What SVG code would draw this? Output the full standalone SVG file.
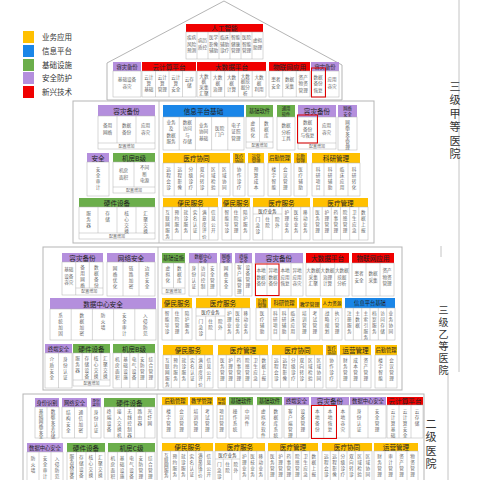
<svg xmlns="http://www.w3.org/2000/svg" width="480" height="480" viewBox="0 0 480 480">
<style>
text{font-family:"Noto Sans CJK SC","Noto Sans",sans-serif}
.tier{fill:none;stroke:#b5b5b5;stroke-width:1}
.c{fill:#fff;stroke:#b0b0b0;stroke-width:.5}
.d{fill:none;stroke:#b0b0b0;stroke-width:.5}
.o{fill:#FFC000}.b{fill:#1A86E8}.g{fill:#6BAE4B}.p{fill:#B48FDD}.r{fill:#F00000}
.h{font-size:6.6px;fill:#222;text-anchor:middle;dominant-baseline:central}
.hm{font-size:5.3px;fill:#222;text-anchor:middle;dominant-baseline:central}
.hs{font-size:4.3px;fill:#222;text-anchor:middle;dominant-baseline:central}
.hx{font-size:3.8px;fill:#222;text-anchor:middle;dominant-baseline:central}
.v{font-size:4.6px;fill:#666;writing-mode:vertical-rl;letter-spacing:1.3px}
.vt{letter-spacing:.3px}
.t{font-size:4.6px;fill:#666;text-anchor:middle}
.cf{font-size:4px;fill:#666;text-anchor:middle}
.sub{font-size:4.6px;fill:#333;text-anchor:middle;dominant-baseline:central}
.hl{fill:none;stroke:#E00000;stroke-width:1}
.lg{font-size:7.5px;fill:#333}
.side{font-size:11px;fill:#333;writing-mode:vertical-rl;letter-spacing:2.5px}
.s2{font-size:10px;letter-spacing:2px}
.ln{fill:none;stroke:#b5b5b5;stroke-width:.8}
</style>

<g id="legend">
<rect class="o" x="23" y="31" width="11" height="12"/><text class="lg" x="42" y="40">业务应用</text>
<rect class="b" x="23" y="45" width="11" height="12"/><text class="lg" x="42" y="54">信息平台</text>
<rect class="g" x="23" y="59" width="11" height="12"/><text class="lg" x="42" y="68">基础设施</text>
<rect class="p" x="23" y="72" width="11" height="12"/><text class="lg" x="42" y="81">安全防护</text>
<rect class="r" x="23" y="86" width="11" height="12"/><text class="lg" x="42" y="95">新兴技术</text>
</g>

<g id="levels">
<path class="ln" d="M459 0V372M448 372V480M441 246V257"/>
<text class="side" x="455" y="81">三级甲等医院</text>
<text class="side s2" x="443.5" y="305">三级乙等医院</text>
<text class="side" x="431" y="418">二级医院</text>
</g>

<g id="roof"><polygon class="tier" points="107,100 107,63 224,1 342,65 342,100"/></g>

<g id="ai">
<rect class="r" x="186" y="24" width="77" height="8"/><text class="h" x="224.5" y="28">人工智能</text>
<rect class="c" x="186" y="32" width="77" height="27"/>
<path class="d" d="M197 32V59M208 32V59M219 32V59M230 32V59M241 32V59M252 32V59"/>
<text class="t" x="191.5" y="39">疾病<tspan x="191.5" dy="6.5">风险</tspan><tspan x="191.5" dy="6.5">预测</tspan></text>
<text class="t" x="202.5" y="42">病历<tspan x="202.5" dy="6.5">质控</tspan></text>
<text class="t" x="213.5" y="39">医学<tspan x="213.5" dy="6.5">影像</tspan><tspan x="213.5" dy="6.5">辅助</tspan></text>
<text class="t" x="224.5" y="39">临床<tspan x="224.5" dy="6.5">辅助</tspan><tspan x="224.5" dy="6.5">诊疗</tspan></text>
<text class="t" x="235.5" y="39">智能<tspan x="235.5" dy="6.5">健康</tspan><tspan x="235.5" dy="6.5">管理</tspan></text>
<text class="t" x="246.5" y="39">医院<tspan x="246.5" dy="6.5">智能</tspan><tspan x="246.5" dy="6.5">管理</tspan></text>
<text class="t" x="257.5" y="42">虚拟<tspan x="257.5" dy="6.5">助理</tspan></text>
</g>

<g id="roof-backup">
<rect class="p" x="113" y="62" width="28" height="9"/><text class="hm" x="127" y="66.5">容灾备份</text>
<rect class="c" x="113" y="71" width="28" height="26"/>
<text class="t" x="127" y="81">基础设备<tspan x="127" dy="7">容灾</tspan></text>
</g>

<g id="roof-cloud">
<rect class="r" x="142" y="62" width="54" height="9"/><text class="h" x="169" y="66.5">云计算平台</text>
<rect class="c" x="142" y="71" width="54" height="26"/>
<path class="d" d="M155.5 71V97M169 71V97M182.5 71V97"/>
<text class="t" x="148.75" y="78.5">云计<tspan x="148.75" dy="6">算</tspan><tspan x="148.75" dy="6">基础</tspan></text>
<text class="t" x="162.25" y="78.5">云计<tspan x="162.25" dy="6">算</tspan><tspan x="162.25" dy="6">管理</tspan></text>
<text class="t" x="175.75" y="78.5">云计<tspan x="175.75" dy="6">算</tspan><tspan x="175.75" dy="6">安全</tspan></text>
<text class="t" x="189.25" y="81">云存<tspan x="189.25" dy="6">储</tspan></text>
</g>

<g id="roof-bigdata">
<rect class="r" x="197" y="62" width="69" height="9"/><text class="h" x="231.5" y="66.5">大数据平台</text>
<rect class="c" x="197" y="71" width="69" height="26"/>
<path class="d" d="M210.8 71V97M224.6 71V97M238.4 71V97M252.2 71V97"/>
<text class="t" x="203.9" y="77.5">大数<tspan x="203.9" dy="5.8">据</tspan><tspan x="203.9" dy="5.8">采集</tspan><tspan x="203.9" dy="5.8">汇聚</tspan></text>
<text class="t" x="217.7" y="78.5">大数<tspan x="217.7" dy="6">据</tspan><tspan x="217.7" dy="6">治理</tspan></text>
<text class="t" x="231.5" y="78.5">大数<tspan x="231.5" dy="6">据</tspan><tspan x="231.5" dy="6">计算</tspan></text>
<text class="t" x="245.3" y="77.5">大数<tspan x="245.3" dy="5.8">据挖</tspan><tspan x="245.3" dy="5.8">掘分</tspan><tspan x="245.3" dy="5.8">析</tspan></text>
<text class="t" x="259.1" y="78.5">大数<tspan x="259.1" dy="6">据</tspan><tspan x="259.1" dy="6">利用</tspan></text>
</g>

<g id="roof-iot">
<rect class="r" x="269" y="62" width="41" height="9"/><text class="h" x="289.5" y="66.5">物联网应用</text>
<rect class="c" x="269" y="71" width="41" height="26"/>
<path class="d" d="M282.7 71V97M296.3 71V97"/>
<text class="t" x="275.8" y="81">患者<tspan x="275.8" dy="6.5">安全</tspan></text>
<text class="t" x="289.5" y="81">数据<tspan x="289.5" dy="6.5">采集</tspan></text>
<text class="t" x="303.2" y="78.5">资产<tspan x="303.2" dy="6.5">物资</tspan><tspan x="303.2" dy="6.5">管理</tspan></text>
</g>

<g id="roof-dr">
<rect class="p" x="311" y="62" width="28" height="9"/><text class="hm" x="325" y="66.5">容灾备份</text>
<rect class="c" x="311" y="71" width="28" height="26"/>
<path class="d" d="M325 71V97"/>
<text class="t" x="318" y="78.5">数据<tspan x="318" dy="6.5">备份</tspan><tspan x="318" dy="6.5">恢复</tspan></text>
<text class="t" x="332" y="81">应用<tspan x="332" dy="6.5">容灾</tspan></text>
<rect class="hl" x="311.5" y="68" width="14" height="29"/>
</g>

<g id="tier1-frame">
<rect class="tier" x="73" y="101" width="301" height="142"/>
<path class="ln" d="M159 101V243"/>
</g>

<g id="t1-backup">
<rect class="p" x="98" y="105" width="57" height="11"/><text class="h" x="126.5" y="110.5">容灾备份</text>
<rect class="c" x="98" y="116" width="57" height="33"/>
<path class="d" d="M117 116V143M136 116V143M98 143H155"/>
<text class="t" x="107.5" y="127">备用<tspan x="107.5" dy="7">网络</tspan></text>
<text class="t" x="126.5" y="127">数据<tspan x="126.5" dy="7">备份</tspan></text>
<text class="t" x="145.5" y="127">应用<tspan x="145.5" dy="7">容灾</tspan></text>
<text class="cf" x="126.5" y="147.5">配置增加</text>
</g>

<g id="t1-security">
<rect class="p" x="87" y="153" width="22" height="9"/><text class="h" x="98" y="157.5">安全</text>
<rect class="c" x="87" y="162" width="22" height="34"/>
<text class="v" x="98" y="167">安全审计</text>
</g>

<g id="t1-room">
<rect class="g" x="113" y="153" width="42" height="9"/><text class="h" x="134" y="157.5">机房B级</text>
<rect class="c" x="113" y="162" width="42" height="31"/>
<path class="d" d="M134 162V187M113 187H155"/>
<text class="t" x="123.5" y="172">机房<tspan x="123.5" dy="7">面积</tspan></text>
<text class="t" x="144.5" y="169">不间<tspan x="144.5" dy="6.5">断</tspan><tspan x="144.5" dy="6.5">电源</tspan></text>
<text class="cf" x="134" y="191.5">配置增加</text>
</g>

<g id="t1-hardware">
<rect class="g" x="79" y="198" width="76" height="9"/><text class="h" x="117" y="202.5">硬件设备</text>
<rect class="c" x="79" y="207" width="76" height="32"/>
<path class="d" d="M98 207V233M117 207V233M136 207V233M79 233H155"/>
<text class="v" x="88.5" y="211">服务器</text>
<text class="v" x="107.5" y="211">存储</text>
<text class="v" x="126.5" y="211">核心交换</text>
<text class="v" x="145.5" y="211">汇聚交换</text>
<text class="cf" x="117" y="237.5">配置增加</text>
</g>

<g id="t1-platform">
<rect class="b" x="163" y="105" width="81" height="12"/><text class="h" x="203.5" y="111">信息平台基础</text>
<rect class="c" x="163" y="117" width="81" height="33"/>
<path class="d" d="M179.2 117V150M195.4 117V150M211.6 117V150M227.8 117V150"/>
<text class="t" x="171.1" y="124">业务<tspan x="171.1" dy="6.3">及</tspan><tspan x="171.1" dy="6.3">数据</tspan><tspan x="171.1" dy="6.3">服务</tspan></text>
<text class="t" x="187.3" y="124">数据<tspan x="187.3" dy="6.3">访问</tspan><tspan x="187.3" dy="6.3">与</tspan><tspan x="187.3" dy="6.3">存储</tspan></text>
<text class="t" x="203.5" y="127">业务<tspan x="203.5" dy="6.3">协同</tspan><tspan x="203.5" dy="6.3">基础</tspan></text>
<text class="t" x="219.7" y="130">医院<tspan x="219.7" dy="6.3">门户</tspan></text>
<text class="t" x="235.9" y="127">电子<tspan x="235.9" dy="6.3">证照</tspan><tspan x="235.9" dy="6.3">管理</tspan></text>
</g>

<g id="t1-basesw">
<rect class="g" x="246" y="105" width="27" height="12"/><text class="hm" x="259.5" y="111">基础软件</text>
<rect class="c" x="246" y="117" width="27" height="31"/>
<path class="d" d="M259.5 117V142M246 142H273"/>
<text class="v" x="252.75" y="121">虚拟化</text>
<text class="v" x="266.25" y="121">数据库</text>
<text class="cf" x="259.5" y="146.5">配置增加</text>
</g>

<g id="t1-gensw">
<rect class="g" x="277" y="105" width="18" height="12"/><text class="hs" x="286" y="108.3">通用</text><text class="hs" x="286" y="113.7">软件</text>
<rect class="c" x="277" y="117" width="18" height="33"/>
<text class="t" x="286" y="127">数据<tspan x="286" dy="6.5">分析</tspan><tspan x="286" dy="6.5">工具</tspan></text>
</g>

<g id="t1-dr">
<rect class="p" x="298" y="105" width="38" height="12"/><text class="h" x="317" y="111">容灾备份</text>
<rect class="c" x="298" y="117" width="38" height="32"/>
<path class="d" d="M317 117V143M298 143H336"/>
<text class="t" x="307.5" y="124">数据<tspan x="307.5" dy="6.5">备份</tspan><tspan x="307.5" dy="6.5">与恢复</tspan></text>
<text class="t" x="326.5" y="127">应用<tspan x="326.5" dy="6.5">容灾</tspan></text>
<text class="cf" x="317" y="147.5">配置增加</text>
<rect class="hl" x="297.5" y="115" width="20" height="28"/>
</g>

<g id="t1-netsec">
<rect class="p" x="338" y="105" width="19" height="12"/><text class="hs" x="347.5" y="108.3">网络</text><text class="hs" x="347.5" y="113.7">安全</text>
<rect class="c" x="338" y="117" width="19" height="33"/>
<text class="v vt" x="347.5" y="120">网络安全管理</text>
</g>

<g id="t1-collab">
<rect class="o" x="163" y="153" width="67" height="10"/><text class="h" x="196.5" y="158">医疗协同</text>
<rect class="c" x="163" y="163" width="67" height="33"/>
<path class="d" d="M174.2 163V196M185.3 163V196M196.5 163V196M207.7 163V196M218.8 163V196"/>
<text class="v" x="168.6" y="167">远程会诊</text>
<text class="v" x="179.75" y="167">远程影像</text>
<text class="v" x="190.9" y="167">分级诊疗</text>
<text class="v" x="202.1" y="167">双向转诊</text>
<text class="v" x="213.25" y="167">区域检验</text>
<text class="v" x="224.4" y="167">区域协同</text>
</g>

<g id="t1-collab2">
<rect class="o" x="233" y="153" width="12" height="10"/><text class="hs" x="239" y="155.7">医疗</text><text class="hs" x="239" y="160.5">协同</text>
<rect class="c" x="233" y="163" width="12" height="33"/>
<text class="v" x="239" y="167">协作诊疗</text>
</g>

<g id="t1-ops">
<rect class="o" x="248" y="153" width="16" height="10"/><text class="hs" x="256" y="155.7">运营</text><text class="hs" x="256" y="160.5">管理</text>
<rect class="c" x="248" y="163" width="16" height="33"/>
<text class="v" x="256" y="167">预算成本</text>
</g>

<g id="t1-logistics">
<rect class="o" x="268" y="153" width="23" height="10"/><text class="hm" x="279.5" y="158">后勤管理</text>
<rect class="c" x="268" y="163" width="23" height="33"/>
<path class="d" d="M279.5 163V196"/>
<text class="v" x="273.75" y="167">楼宇智能</text>
<text class="v" x="285.25" y="167">会议管理</text>
</g>

<g id="t1-logistics2">
<rect class="o" x="294" y="153" width="13" height="10"/><text class="hs" x="300.5" y="155.7">后勤</text><text class="hs" x="300.5" y="160.5">管理</text>
<rect class="c" x="294" y="163" width="13" height="33"/>
<text class="v" x="300.5" y="167">医疗辅助</text>
</g>

<g id="t1-research">
<rect class="o" x="312" y="153" width="48" height="10"/><text class="h" x="336" y="158">科研管理</text>
<rect class="c" x="312" y="163" width="48" height="33"/>
<path class="d" d="M324 163V196M336 163V196M348 163V196"/>
<text class="v" x="318" y="167">科研项目</text>
<text class="v" x="330" y="167">科研辅助</text>
<text class="v" x="342" y="167">临床应用</text>
<text class="v" x="354" y="167">科研转化</text>
</g>

<g id="t1-convenience">
<rect class="o" x="163" y="198" width="55" height="9"/><text class="h" x="190.5" y="202.5">便民服务</text>
<rect class="c" x="163" y="207" width="55" height="33"/>
<path class="d" d="M172.2 207V240M181.3 207V240M190.5 207V240M199.7 207V240M208.8 207V240"/>
<text class="v" x="167.6" y="210">互联网服务</text>
<text class="v" x="176.75" y="210">预约服务</text>
<text class="v" x="185.9" y="210">就诊服务</text>
<text class="v" x="195.1" y="210">实名认证</text>
<text class="v" x="204.25" y="210">满意度评价</text>
<text class="v" x="213.4" y="210">信息公开</text>
</g>

<g id="t1-convenience2">
<rect class="o" x="222" y="198" width="28" height="9"/><text class="h" x="236" y="202.5">便民服务</text>
<rect class="c" x="222" y="207" width="28" height="33"/>
<path class="d" d="M231.3 207V240M240.7 207V240"/>
<text class="v" x="226.7" y="210">智能导诊</text>
<text class="v" x="236" y="210">住院管理</text>
<text class="v" x="245.3" y="210">陪护服务</text>
</g>

<g id="t1-medservice">
<rect class="o" x="253" y="198" width="57" height="9"/><text class="h" x="281.5" y="202.5">医疗服务</text>
<rect class="c" x="253" y="207" width="57" height="33"/>
<path class="d" d="M282 207V240M253 214H282M262.7 214V240M272.3 214V240M291.3 207V240M300.7 207V240"/>
<text class="sub" x="267.5" y="210.7">医疗业务</text>
<text class="v" x="257.8" y="217">门急诊</text>
<text class="v" x="267.5" y="217">住院</text>
<text class="v" x="277.2" y="217">院外</text>
<text class="v" x="286.7" y="210">护理业务</text>
<text class="v" x="296" y="210">医技业务</text>
<text class="v" x="305.3" y="210">移动业务</text>
</g>

<g id="t1-medmgmt">
<rect class="o" x="313" y="198" width="55" height="9"/><text class="h" x="340.5" y="202.5">医疗管理</text>
<rect class="c" x="313" y="207" width="55" height="33"/>
<path class="d" d="M322.2 207V240M331.3 207V240M340.5 207V240M349.7 207V240M358.8 207V240"/>
<text class="v" x="317.6" y="210">医务管理</text>
<text class="v" x="326.75" y="210">护理管理</text>
<text class="v" x="335.9" y="210">药事管理</text>
<text class="v" x="345.1" y="210">院感管理</text>
<text class="v" x="354.25" y="210">卫生应急</text>
<text class="v" x="363.4" y="210">数据上报</text>
</g>

<g id="tier2-frame">
<rect class="tier" x="43" y="247" width="359" height="143"/>
<path class="ln" d="M158 247V390"/>
</g>

<g id="t2-backup">
<rect class="p" x="62" y="253" width="41" height="9"/><text class="h" x="82.5" y="257.5">容灾备份</text>
<rect class="c" x="62" y="262" width="41" height="33"/>
<path class="d" d="M75.7 262V295M89.3 262V288M75.7 288H103"/>
<text class="t" x="68.8" y="271">基础<tspan x="68.8" dy="6.5">设备</tspan><tspan x="68.8" dy="6.5">容灾</tspan></text>
<text class="v" x="82.5" y="265">备用网络</text>
<text class="v" x="96.2" y="265">数据备份</text>
<text class="cf" x="89.3" y="293">配置增加</text>
</g>

<g id="t2-netsec">
<rect class="p" x="107" y="253" width="48" height="9"/><text class="h" x="131" y="257.5">网络安全</text>
<rect class="c" x="107" y="262" width="48" height="34"/>
<path class="d" d="M123 262V296M139 262V296"/>
<text class="v" x="115" y="266">网络优化</text>
<text class="v" x="131" y="266">链路加密</text>
<text class="v" x="147" y="266">边界安全</text>
</g>

<g id="t2-dcsec">
<rect class="p" x="50" y="298" width="106" height="11"/><text class="h" x="103" y="303.5">数据中心安全</text>
<rect class="c" x="50" y="309" width="106" height="31"/>
<path class="d" d="M71.2 309V340M92.4 309V340M113.6 309V340M134.8 309V340"/>
<text class="v" x="60.6" y="313">系统加固</text>
<text class="v" x="81.8" y="313">数据加密</text>
<text class="v" x="103" y="313">防火墙</text>
<text class="v" x="124.2" y="313">安全审计</text>
<text class="v" x="145.4" y="313">入侵防范</text>
</g>

<g id="t2-endpoint">
<rect class="p" x="45" y="344" width="27" height="9"/><text class="hm" x="58.5" y="348.5">终端安全</text>
<rect class="c" x="45" y="353" width="27" height="35"/>
<path class="d" d="M58.5 353V388"/>
<text class="v" x="51.75" y="357">介质安全</text>
<text class="v" x="65.25" y="357">身份认证</text>
</g>

<g id="t2-hardware">
<rect class="g" x="73" y="344" width="37" height="9"/><text class="h" x="91.5" y="348.5">硬件设备</text>
<rect class="c" x="73" y="353" width="37" height="33"/>
<path class="d" d="M82.25 353V380M91.5 353V380M100.75 353V380M73 380H110"/>
<text class="v" x="77.6" y="356">服务器</text>
<text class="v" x="86.9" y="356">存储设备</text>
<text class="v" x="96.1" y="356">核心交换</text>
<text class="v" x="105.4" y="356">汇聚交换</text>
<text class="cf" x="91.5" y="384.5">配置增加</text>
</g>

<g id="t2-room">
<rect class="g" x="113" y="344" width="42" height="9"/><text class="h" x="134" y="348.5">机房B级</text>
<rect class="c" x="113" y="353" width="42" height="35"/>
<path class="d" d="M121.4 353V388M129.8 353V388M138.2 353V388M146.6 353V388"/>
<text class="v" x="117.2" y="357">机房面积</text>
<text class="v" x="125.6" y="357">基础设施</text>
<text class="v" x="134" y="357">电气设备</text>
<text class="v" x="142.4" y="357">安防管理</text>
<text class="v" x="150.8" y="357">综合管理</text>
</g>

<g id="t2-infra">
<rect class="g" x="162" y="253" width="23" height="10"/><text class="hm" x="173.5" y="258">基础设施</text>
<rect class="c" x="162" y="263" width="23" height="31"/>
<path class="d" d="M173.5 263V288M162 288H185"/>
<text class="v" x="167.75" y="266">虚拟化</text>
<text class="v" x="179.25" y="266">数据库</text>
<text class="cf" x="173.5" y="292.5">配置增加</text>
</g>

<g id="t2-dcsec2">
<rect class="p" x="189" y="253" width="28" height="10"/><text class="hs" x="203" y="255.7">数据中心</text><text class="hs" x="203" y="260.5">安全</text>
<rect class="c" x="189" y="263" width="28" height="33"/>
<path class="d" d="M198.3 263V296M207.7 263V296"/>
<text class="v" x="193.7" y="266">身份认证</text>
<text class="v" x="203" y="266">访问控制</text>
<text class="v" x="212.3" y="266">安全管理</text>
</g>

<g id="t2-netsec2">
<rect class="p" x="220" y="253" width="12" height="10"/><text class="hs" x="226" y="255.7">网络</text><text class="hs" x="226" y="260.5">安全</text>
<rect class="c" x="220" y="263" width="12" height="33"/>
<text class="v" x="226" y="266">网络安全</text>
</g>

<g id="t2-endpoint2">
<rect class="p" x="235" y="253" width="17" height="10"/><text class="hs" x="243.5" y="255.7">终端</text><text class="hs" x="243.5" y="260.5">安全</text>
<rect class="c" x="235" y="263" width="17" height="33"/>
<path class="d" d="M243.5 263V296"/>
<text class="v" x="239.25" y="265">客户端管理</text>
<text class="v" x="247.75" y="265">设备管理</text>
</g>

<g id="t2-dr">
<rect class="p" x="255" y="253" width="48" height="10"/><text class="h" x="279" y="258">容灾备份</text>
<rect class="c" x="255" y="263" width="48" height="33"/>
<path class="d" d="M267 263V296M279 263V296M291 263V296"/>
<text class="t" x="261" y="272">本地<tspan x="261" dy="6.5">数据</tspan><tspan x="261" dy="6.5">备份</tspan></text>
<text class="t" x="273" y="272">异地<tspan x="273" dy="6.5">数据</tspan><tspan x="273" dy="6.5">备份</tspan></text>
<text class="t" x="285" y="272">本地<tspan x="285" dy="6.5">应用</tspan><tspan x="285" dy="6.5">恢复</tspan></text>
<text class="t" x="297" y="272">异地<tspan x="297" dy="6.5">应用</tspan><tspan x="297" dy="6.5">容灾</tspan></text>
<rect class="hl" x="255.5" y="264" width="23.5" height="31.5"/>
</g>

<g id="t2-bigdata">
<rect class="r" x="306" y="253" width="43" height="10"/><text class="h" x="327.5" y="258">大数据平台</text>
<rect class="c" x="306" y="263" width="43" height="33"/>
<path class="d" d="M320.3 263V296M334.7 263V296"/>
<text class="t" x="313.2" y="272">大数据<tspan x="313.2" dy="6.5">采集</tspan><tspan x="313.2" dy="6.5">汇聚</tspan></text>
<text class="t" x="327.5" y="272">大数据<tspan x="327.5" dy="6.5">治理</tspan><tspan x="327.5" dy="6.5">计算</tspan></text>
<text class="t" x="341.8" y="272">大数据<tspan x="341.8" dy="6.5">挖掘</tspan><tspan x="341.8" dy="6.5">分析</tspan></text>
</g>

<g id="t2-iot">
<rect class="r" x="352" y="253" width="42" height="10"/><text class="h" x="373" y="258">物联网应用</text>
<rect class="c" x="352" y="263" width="42" height="33"/>
<path class="d" d="M366 263V296M380 263V296"/>
<text class="t" x="359" y="275">患者<tspan x="359" dy="6.5">安全</tspan></text>
<text class="t" x="373" y="275">数据<tspan x="373" dy="6.5">采集</tspan></text>
<text class="t" x="387" y="272">资产<tspan x="387" dy="6.5">物资</tspan><tspan x="387" dy="6.5">管理</tspan></text>
</g>

<g id="t2-convenience2">
<rect class="o" x="162" y="298" width="30" height="10"/><text class="h" x="177" y="303">便民服务</text>
<rect class="c" x="162" y="308" width="30" height="32"/>
<path class="d" d="M172 308V340M182 308V340"/>
<text class="v" x="167" y="311">智能导诊</text>
<text class="v" x="177" y="311">住院管理</text>
<text class="v" x="187" y="311">陪护服务</text>
</g>

<g id="t2-medservice">
<rect class="o" x="196" y="298" width="54" height="10"/><text class="h" x="223" y="303">医疗服务</text>
<rect class="c" x="196" y="308" width="54" height="32"/>
<path class="d" d="M225 308V340M196 316H225M205.7 316V340M215.3 316V340M233.3 308V340M241.7 308V340"/>
<text class="sub" x="210.5" y="312">医疗业务</text>
<text class="v" x="200.8" y="319">门急诊</text>
<text class="v" x="210.5" y="319">住院</text>
<text class="v" x="220.2" y="319">院外</text>
<text class="v" x="229.2" y="311">护理业务</text>
<text class="v" x="237.5" y="311">医技业务</text>
<text class="v" x="245.8" y="311">移动业务</text>
</g>

<g id="t2-logistics2">
<rect class="o" x="256" y="298" width="12" height="10"/><text class="hs" x="262" y="300.7">后勤</text><text class="hs" x="262" y="305.5">管理</text>
<rect class="c" x="256" y="308" width="12" height="32"/>
<text class="v" x="262" y="311">医疗辅助</text>
</g>

<g id="t2-research">
<rect class="o" x="271" y="298" width="26" height="10"/><text class="hm" x="284" y="303">科研管理</text>
<rect class="c" x="271" y="308" width="26" height="32"/>
<path class="d" d="M279.7 308V340M288.3 308V340"/>
<text class="v" x="275.3" y="311">科研项目</text>
<text class="v" x="284" y="311">科研辅助</text>
<text class="v" x="292.7" y="311">临床应用</text>
</g>

<g id="t2-teaching">
<rect class="o" x="299" y="298" width="21" height="10"/><text class="hm" x="309.5" y="303" style="font-size:4.9px">教学管理</text>
<rect class="c" x="299" y="308" width="21" height="32"/>
<path class="d" d="M309.5 308V340"/>
<text class="v" x="304.25" y="311">培训管理</text>
<text class="v" x="314.75" y="311">考试管理</text>
</g>

<g id="t2-hr">
<rect class="o" x="322" y="298" width="20" height="10"/><text class="hm" x="332" y="303" style="font-size:4.7px">人力资源</text>
<rect class="c" x="322" y="308" width="20" height="32"/>
<path class="d" d="M332 308V340"/>
<text class="v" x="327" y="311">战略规划</text>
<text class="v" x="337" y="311">执行管理</text>
</g>

<g id="t2-platform">
<rect class="b" x="345" y="298" width="50" height="10"/><text class="hm" x="370" y="303">信息平台基础</text>
<rect class="c" x="345" y="308" width="50" height="32"/>
<path class="d" d="M353.3 308V340M361.7 308V340M370 308V340M378.3 308V340M386.7 308V340"/>
<text class="v" x="349.2" y="311">注册服务</text>
<text class="v" x="357.5" y="311">主数据</text>
<text class="v" x="365.8" y="311">主索引服务</text>
<text class="v" x="374.2" y="311">档案服务</text>
<text class="v" x="382.5" y="311">访问存储</text>
<text class="v" x="390.8" y="311">业务协同</text>
</g>

<g id="t2-convenience">
<rect class="o" x="163" y="345" width="50" height="10"/><text class="h" x="188" y="350">便民服务</text>
<rect class="c" x="163" y="355" width="50" height="33"/>
<path class="d" d="M171.3 355V388M179.7 355V388M188 355V388M196.3 355V388M204.7 355V388"/>
<text class="v" x="167.2" y="358">互联网服务</text>
<text class="v" x="175.5" y="358">预约服务</text>
<text class="v" x="183.8" y="358">就诊服务</text>
<text class="v" x="192.2" y="358">实名认证</text>
<text class="v" x="200.5" y="358">满意度评价</text>
<text class="v" x="208.8" y="358">信息公开</text>
</g>

<g id="t2-medmgmt">
<rect class="o" x="218" y="345" width="50" height="10"/><text class="h" x="243" y="350">医疗管理</text>
<rect class="c" x="218" y="355" width="50" height="33"/>
<path class="d" d="M226.3 355V388M234.7 355V388M243 355V388M251.3 355V388M259.7 355V388"/>
<text class="v" x="222.2" y="358">医务管理</text>
<text class="v" x="230.5" y="358">护理管理</text>
<text class="v" x="238.8" y="358">药事管理</text>
<text class="v" x="247.2" y="358">院感管理</text>
<text class="v" x="255.5" y="358">卫生应急</text>
<text class="v" x="263.8" y="358">数据上报</text>
</g>

<g id="t2-collab">
<rect class="o" x="272" y="345" width="51" height="10"/><text class="h" x="297.5" y="350">医疗协同</text>
<rect class="c" x="272" y="355" width="51" height="33"/>
<path class="d" d="M280.5 355V388M289 355V388M297.5 355V388M306 355V388M314.5 355V388"/>
<text class="v" x="276.25" y="358">远程会诊</text>
<text class="v" x="284.75" y="358">远程影像</text>
<text class="v" x="293.25" y="358">分级诊疗</text>
<text class="v" x="301.75" y="358">双向转诊</text>
<text class="v" x="310.25" y="358">区域检验</text>
<text class="v" x="318.75" y="358">区域协同</text>
</g>

<g id="t2-collab2">
<rect class="o" x="326" y="345" width="11" height="10"/><text class="hs" x="331.5" y="347.7">医疗</text><text class="hs" x="331.5" y="352.5">协同</text>
<rect class="c" x="326" y="355" width="11" height="33"/>
<text class="v" x="331.5" y="358">协作诊疗</text>
</g>

<g id="t2-ops">
<rect class="o" x="340" y="345" width="31" height="10"/><text class="h" x="355.5" y="350">运营管理</text>
<rect class="c" x="340" y="355" width="31" height="33"/>
<path class="d" d="M350.3 355V388M360.7 355V388"/>
<text class="v" x="345.2" y="358">财务管理</text>
<text class="v" x="355.5" y="358">成本管理</text>
<text class="v" x="365.8" y="358">资产管理</text>
</g>

<g id="t2-logistics">
<rect class="o" x="375" y="345" width="22" height="10"/><text class="hm" x="386" y="350">后勤管理</text>
<rect class="c" x="375" y="355" width="22" height="33"/>
<path class="d" d="M386 355V388"/>
<text class="v" x="380.5" y="358">楼宇智能</text>
<text class="v" x="391.5" y="358">会议管理</text>
</g>

<g id="tier3-frame">
<rect class="tier" x="23" y="394" width="401" height="100"/>
<path class="ln" d="M157 394V480"/>
</g>

<g id="t3-identity">
<rect class="p" x="35" y="398" width="24" height="9"/><text class="hm" x="47" y="402.5">身份识别</text>
<rect class="c" x="35" y="407" width="24" height="31"/>
<path class="d" d="M47 407V438"/>
<text class="v vt" x="41" y="409">基础网络安全</text>
<text class="v vt" x="53" y="409">数据安全存储</text>
</g>

<g id="t3-netsec">
<rect class="p" x="62" y="398" width="25" height="9"/><text class="hm" x="74.5" y="402.5">网络安全</text>
<rect class="c" x="62" y="407" width="25" height="31"/>
<path class="d" d="M74.5 407V438"/>
<text class="v" x="68.25" y="410">结构安全</text>
<text class="v" x="80.75" y="410">通信加密</text>
</g>

<g id="t3-auth">
<rect class="p" x="91" y="398" width="10" height="9"/><text class="hx" x="96" y="400.6">身份</text><text class="hx" x="96" y="404.8">鉴别</text>
<rect class="c" x="91" y="407" width="10" height="31"/>
<text class="v" x="96" y="410">身份认证</text>
</g>

<g id="t3-hardware">
<rect class="g" x="104" y="398" width="51" height="9"/><text class="h" x="129.5" y="402.5">硬件设备</text>
<rect class="c" x="104" y="407" width="51" height="31"/>
<path class="d" d="M114.2 407V438M124.4 407V438M134.6 407V438M144.8 407V438"/>
<text class="v" x="109.1" y="409">终端设备</text>
<text class="v" x="119.3" y="409">接入交换机</text>
<text class="v" x="129.5" y="409">无线控制器</text>
<text class="v" x="139.7" y="409">路由器</text>
<text class="v" x="149.9" y="409">光纤网</text>
</g>

<g id="t3-dcsec">
<rect class="p" x="27" y="443" width="36" height="9"/><text class="hm" x="45" y="447.5">数据中心安全</text>
<rect class="c" x="27" y="452" width="36" height="40"/>
<path class="d" d="M39 452V492M51 452V492"/>
<text class="v" x="33" y="456">防火墙</text>
<text class="v" x="45" y="456">安全审计</text>
<text class="v" x="57" y="456">入侵防范</text>
</g>

<g id="t3-hardware2">
<rect class="g" x="67" y="443" width="38" height="9"/><text class="h" x="86" y="447.5">硬件设备</text>
<rect class="c" x="67" y="452" width="38" height="40"/>
<path class="d" d="M76.5 452V492M86 452V492M95.5 452V492"/>
<text class="v vt" x="71.75" y="454">服务器设备</text>
<text class="v" x="81.25" y="455">存储设备</text>
<text class="v" x="90.75" y="455">核心交换</text>
<text class="v" x="100.25" y="455">汇聚交换</text>
</g>

<g id="t3-room">
<rect class="g" x="108" y="443" width="47" height="9"/><text class="h" x="131.5" y="447.5">机房C级</text>
<rect class="c" x="108" y="452" width="47" height="40"/>
<path class="d" d="M117.4 452V492M126.8 452V492M136.2 452V492M145.6 452V492"/>
<text class="v" x="112.7" y="456">机房面积</text>
<text class="v" x="122.1" y="456">基础设施</text>
<text class="v" x="131.5" y="456">电气设备</text>
<text class="v" x="140.9" y="456">安防管理</text>
<text class="v" x="150.3" y="456">综合管理</text>
</g>

<g id="t3-logistics">
<rect class="o" x="162" y="397" width="26" height="8"/><text class="hm" x="175" y="401">后勤管理</text>
<rect class="c" x="162" y="405" width="26" height="33"/>
<path class="d" d="M175 405V438"/>
<text class="v" x="168.5" y="409">楼宇管理</text>
<text class="v" x="181.5" y="409">会议管理</text>
</g>

<g id="t3-teaching">
<rect class="o" x="190" y="397" width="23" height="8"/><text class="hm" x="201.5" y="401">教学管理</text>
<rect class="c" x="190" y="405" width="23" height="33"/>
<path class="d" d="M201.5 405V438"/>
<text class="v" x="195.75" y="409">培训管理</text>
<text class="v" x="207.25" y="409">考试管理</text>
</g>

<g id="t3-research">
<rect class="o" x="217" y="397" width="9" height="8"/><text class="hx" x="221.5" y="399">科研</text><text class="hx" x="221.5" y="403">管理</text>
<rect class="c" x="217" y="405" width="9" height="33"/>
<text class="v" x="221.5" y="409">项目管理</text>
</g>

<g id="t3-basesw">
<rect class="g" x="229" y="397" width="24" height="8"/><text class="hm" x="241" y="401">基础软件</text>
<rect class="c" x="229" y="405" width="24" height="33"/>
<path class="d" d="M241 405V438"/>
<text class="v" x="235" y="409">操作系统</text>
<text class="v" x="247" y="409">中间件</text>
</g>

<g id="t3-basesw2">
<rect class="g" x="257" y="397" width="25" height="8"/><text class="hm" x="269.5" y="401">基础软件</text>
<rect class="c" x="257" y="405" width="25" height="33"/>
<path class="d" d="M269.5 405V438"/>
<text class="v" x="263.25" y="409">虚拟化软件</text>
<text class="v" x="275.75" y="409">数据库系统</text>
</g>

<g id="t3-endpoint">
<rect class="p" x="284" y="397" width="25" height="8"/><text class="hm" x="296.5" y="401">终端安全</text>
<rect class="c" x="284" y="405" width="25" height="33"/>
<path class="d" d="M296.5 405V438"/>
<text class="v" x="290.25" y="409">客户端管理</text>
<text class="v" x="302.75" y="409">设备管理</text>
</g>

<g id="t3-dr">
<rect class="p" x="311" y="397" width="38" height="8"/><text class="h" x="330" y="401">容灾备份</text>
<rect class="c" x="311" y="405" width="38" height="33"/>
<path class="d" d="M323.7 405V438M336.3 405V438"/>
<text class="v" x="317.3" y="409">本地备份</text>
<text class="v" x="330" y="409">本地恢复</text>
<text class="v" x="342.7" y="409">本地容灾</text>
<rect class="hl" x="311.5" y="405.5" width="25" height="33"/>
</g>

<g id="t3-dcsec2">
<rect class="p" x="350" y="397" width="36" height="8"/><text class="hm" x="368" y="401">数据中心安全</text>
<rect class="c" x="350" y="405" width="36" height="33"/>
<path class="d" d="M368 405V438"/>
<text class="v" x="359" y="409">身份认证</text>
<text class="v" x="377" y="409">安全管理</text>
</g>

<g id="t3-cloud">
<rect class="r" x="387" y="397" width="36" height="8"/><text class="h" x="405" y="401">云计算平台</text>
<rect class="c" x="387" y="405" width="36" height="33"/>
<path class="d" d="M399 405V438M411 405V438"/>
<text class="v" x="393" y="409">云计算基础</text>
<text class="v" x="405" y="409">云计算安全</text>
<text class="v" x="417" y="409">云存储</text>
</g>

<g id="t3-convenience">
<rect class="o" x="162" y="443" width="51" height="8"/><text class="h" x="187.5" y="447">便民服务</text>
<rect class="c" x="162" y="451" width="51" height="40"/>
<path class="d" d="M170.5 451V491M179 451V491M187.5 451V491M196 451V491M204.5 451V491"/>
<text class="v vt" x="166.25" y="453">互联网服务</text>
<text class="v" x="174.75" y="454">预约服务</text>
<text class="v" x="183.25" y="454">就诊服务</text>
<text class="v" x="191.75" y="454">实名认证</text>
<text class="v vt" x="200.25" y="453">满意度评价</text>
<text class="v" x="208.75" y="454">信息公开</text>
</g>

<g id="t3-medservice">
<rect class="o" x="215" y="443" width="50" height="8"/><text class="h" x="240" y="447">医疗服务</text>
<rect class="c" x="215" y="451" width="50" height="40"/>
<path class="d" d="M240 451V491M215 459H240M223.3 459V491M231.7 459V491M248.3 451V491M256.7 451V491"/>
<text class="sub" x="227.5" y="455">医疗业务</text>
<text class="v" x="219.2" y="462">门急诊</text>
<text class="v" x="227.5" y="462">住院</text>
<text class="v" x="235.8" y="462">院外</text>
<text class="v" x="244.2" y="454">护理业务</text>
<text class="v" x="252.5" y="454">医技业务</text>
<text class="v" x="260.8" y="454">移动业务</text>
</g>

<g id="t3-medmgmt">
<rect class="o" x="268" y="443" width="50" height="8"/><text class="h" x="293" y="447">医疗管理</text>
<rect class="c" x="268" y="451" width="50" height="40"/>
<path class="d" d="M276.3 451V491M284.7 451V491M293 451V491M301.3 451V491M309.7 451V491"/>
<text class="v" x="272.2" y="454">医务管理</text>
<text class="v" x="280.5" y="454">护理管理</text>
<text class="v" x="288.8" y="454">药事管理</text>
<text class="v" x="297.2" y="454">院感管理</text>
<text class="v" x="305.5" y="454">卫生应急</text>
<text class="v" x="313.8" y="454">数据上报</text>
</g>

<g id="t3-collab">
<rect class="o" x="322" y="443" width="50" height="8"/><text class="h" x="347" y="447">医疗协同</text>
<rect class="c" x="322" y="451" width="50" height="40"/>
<path class="d" d="M330.3 451V491M338.7 451V491M347 451V491M355.3 451V491M363.7 451V491"/>
<text class="v" x="326.2" y="454">远程会诊</text>
<text class="v" x="334.5" y="454">远程影像</text>
<text class="v" x="342.8" y="454">分级诊疗</text>
<text class="v" x="351.2" y="454">双向转诊</text>
<text class="v" x="359.5" y="454">区域检验</text>
<text class="v" x="367.8" y="454">区域协同</text>
</g>

<g id="t3-ops">
<rect class="o" x="374" y="443" width="44" height="8"/><text class="h" x="396" y="447">运营管理</text>
<rect class="c" x="374" y="451" width="44" height="40"/>
<path class="d" d="M385 451V491M396 451V491M407 451V491"/>
<text class="v" x="379.5" y="454">财务管理</text>
<text class="v" x="390.5" y="454">审计管理</text>
<text class="v" x="401.5" y="454">资产管理</text>
<text class="v" x="412.5" y="454">物资管理</text>
</g>
</svg>
